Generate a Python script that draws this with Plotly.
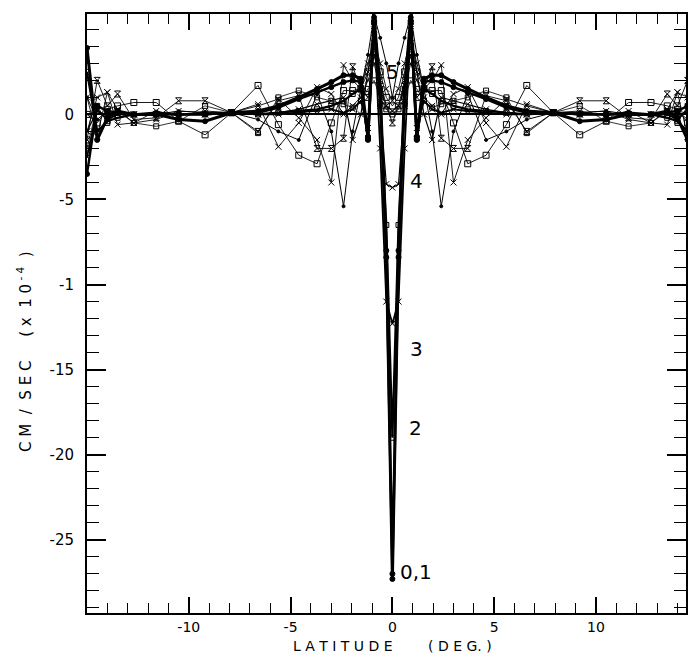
import plotly.graph_objects as go

# latitude grid (deg), positive half; the figure is symmetric about the equator
lat_half = [0, 0.3, 0.6, 0.9, 1.2, 1.55, 1.95, 2.4, 3.0, 3.7, 4.6, 5.6, 6.6,
            7.9, 9.2, 10.5, 11.6, 12.7, 13.5, 14.0, 14.5, 15.0]

# values (cm/sec x 1e-4) on lat_half
curve_0 = [-27.3, -8.0, 1.5, 5.7, -1.3, 2.1, 2.3, 2.3, 1.9, 1.5, 1.0, 0.5, 0.2,
           0.1, -0.4, -0.3, 0.0, 0.0, 0.2, -0.2, -1.5, 3.9]
curve_1 = [-27.0, -8.4, 1.3, 5.5, -1.5, 1.9, 2.0, 1.9, 1.6, 1.3, 0.9, 0.4, 0.1,
           0.1, 0.0, 0.0, 0.1, 0.0, 0.1, 0.2, 0.5, -3.5]
curve_2 = [-19.0, -6.5, 0.6, 5.4, -1.4, 1.5, 1.2, 0.8, 0.5, 0.3, 0.2, 0.1, 0.0,
           0.1, 0.0, 0.0, 0.0, 0.0, -0.2, -0.4, -1.0, 2.5]
curve_3 = [-12.3, -11.0, -2.0, 5.2, -0.8, 0.8, 0.3, 0.1, 0.3, 0.2, 0.1, 0.0, 0.0,
           0.1, 0.0, 0.0, 0.0, 0.0, 0.0, -0.3, 0.3, -2.5]
curve_4 = [-4.3, -4.1, 0.5, 5.0, 2.5, 0.0, -1.5, 1.0, 0.8, 0.6, 0.3, 0.1, 0.0,
           0.1, 0.0, 0.0, 0.0, 0.0, 0.1, -0.1, 0.2, -1.0]
curve_5 = [1.0, 3.0, 4.5, 5.8, 3.5, 1.5, -1.0, -5.4, -1.0, 1.2, -1.5, -1.0, -0.3,
           0.1, 0.1, 0.2, 0.0, 0.0, 0.1, 0.2, -0.3, 1.0]
curve_6 = [0.8, 1.5, 3.0, 4.5, 3.0, 1.5, 2.0, 2.9, -4.0, -1.5, -0.2, 0.9, 0.5,
           0.1, 0.2, -0.1, 0.2, -0.5, -0.6, 1.3, 1.0, -1.0]
curve_7 = [0.5, 1.0, 2.5, 4.0, 2.5, 1.5, 1.4, 1.4, -0.5, -2.9, -2.4, -0.6, 1.7,
           0.1, -1.2, -0.4, 0.7, 0.7, 0.5, 0.3, -0.5, 0.0]
curve_8 = [-0.5, 0.5, 2.0, 3.5, 1.0, 1.5, 2.8, -1.4, -2.0, -2.0, 1.1, 0.8, -1.0,
           0.1, 0.8, 0.8, -0.2, -0.3, 1.2, 0.5, 2.0, -1.5]
curve_9 = [0.2, 0.5, 1.5, 3.0, 2.0, 1.0, 0.5, 0.0, 1.2, 1.6, -0.5, -1.9, 0.6,
           0.1, 0.1, 0.2, -0.3, -0.5, 0.3, 1.3, -1.3, 1.0]
curve_10 = [0.0, 0.3, 1.0, 2.0, 1.5, 0.8, 0.4, 0.6, 0.8, 1.0, 1.4, 1.0, -1.1,
            0.1, 0.5, -0.4, -0.7, -0.5, 0.2, -0.5, 0.5, -2.0]

curves = [curve_0, curve_1, curve_2, curve_3, curve_4, curve_5,
          curve_6, curve_7, curve_8, curve_9, curve_10]

# style per curve: (line width, marker symbol, marker size)
styles = [(3.0, "circle", 5), (2.4, "circle", 5), (2.2, "square-open", 5),
          (1.8, "x-thin-open", 6), (1.2, "x-thin-open", 6), (1.0, "circle", 3),
          (0.9, "x-thin-open", 6), (0.9, "square-open", 6), (0.9, "hourglass-open", 6),
          (0.9, "x-thin-open", 6), (0.8, "square-open", 5)]

curve_labels = ["5", "4", "3", "2", "0,1"]
label_x = [0.0, 1.2, 1.2, 1.15, 1.15]
label_y = [2.5, -3.9, -13.8, -18.4, -26.9]

y_tickvals = [0, -5, -10, -15, -20, -25]
y_ticktext = ["0", "-5", "-1", "-15", "-20", "-25"]
x_tickvals = [-10, -5, 0, 5, 10]
x_ticktext = ["-10", "-5", "0", "5", "10"]

lat = [-v for v in lat_half[:0:-1]] + lat_half

fig = go.Figure()
for vals, (w, sym, sz) in zip(curves, styles):
    full = vals[:0:-1] + vals
    fig.add_trace(go.Scatter(
        x=lat, y=full, mode="lines+markers",
        line=dict(color="black", width=w),
        marker=dict(symbol=sym, size=sz, color="black",
                    line=dict(color="black", width=1)),
        showlegend=False, hoverinfo="skip"))

for t, xx, yy in zip(curve_labels, label_x, label_y):
    fig.add_annotation(x=xx, y=yy, text=t, showarrow=False,
                       font=dict(family="DejaVu Sans", size=20, color="black"),
                       xanchor="center", yanchor="middle")

xfont = dict(family="DejaVu Sans", size=14, color="black")
yfont = dict(family="DejaVu Sans", size=15, color="black")
title_font = dict(family="DejaVu Sans", size=14, color="black")

fig.add_annotation(xref="paper", yref="paper", x=-0.105, y=0.436,
                   text="C M &nbsp;/ &nbsp;S E C &nbsp;&nbsp;&nbsp;&nbsp;( x &nbsp;1 0<sup> - 4</sup> &nbsp;)",
                   textangle=-90, showarrow=False,
                   font=dict(family="DejaVu Sans", size=15, color="black"),
                   xanchor="center", yanchor="middle")
fig.add_annotation(xref="x", yref="paper", x=-2.45, y=-0.055,
                   text="L A T I T U D E", showarrow=False, font=title_font,
                   xanchor="center", yanchor="middle")
fig.add_annotation(xref="x", yref="paper", x=3.3, y=-0.055,
                   text="( D E G. )", showarrow=False, font=title_font,
                   xanchor="center", yanchor="middle")

# page body has an 8px margin, so the figure is sized to fit the 696x663 window
fig.update_layout(
    width=680, height=647,
    margin=dict(l=79, r=0, t=6, b=42),
    paper_bgcolor="white", plot_bgcolor="white",
    showlegend=False,
)
fig.update_xaxes(
    range=[-15, 14.42], showgrid=False, zeroline=False,
    showline=True, linecolor="black", linewidth=2, mirror="allticks",
    ticks="inside", tickvals=x_tickvals, ticktext=x_ticktext,
    ticklen=16, tickwidth=1.5, tickcolor="black",
    minor=dict(dtick=1, tick0=0, ticks="inside", ticklen=10,
               tickwidth=1.3, tickcolor="black", showgrid=False),
    tickfont=xfont, ticklabelstandoff=0,
)
fig.update_yaxes(
    range=[-29.3, 5.9], showgrid=False,
    zeroline=True, zerolinecolor="black", zerolinewidth=1.6,
    showline=True, linecolor="black", linewidth=2, mirror="allticks",
    ticks="inside", tickvals=y_tickvals, ticktext=y_ticktext,
    ticklen=19, tickwidth=1.5, tickcolor="black",
    minor=dict(dtick=1, tick0=0, ticks="inside", ticklen=12,
               tickwidth=1.3, tickcolor="black", showgrid=False),
    tickfont=yfont, ticklabelstandoff=8,
)

fig.write_html("out.html")
